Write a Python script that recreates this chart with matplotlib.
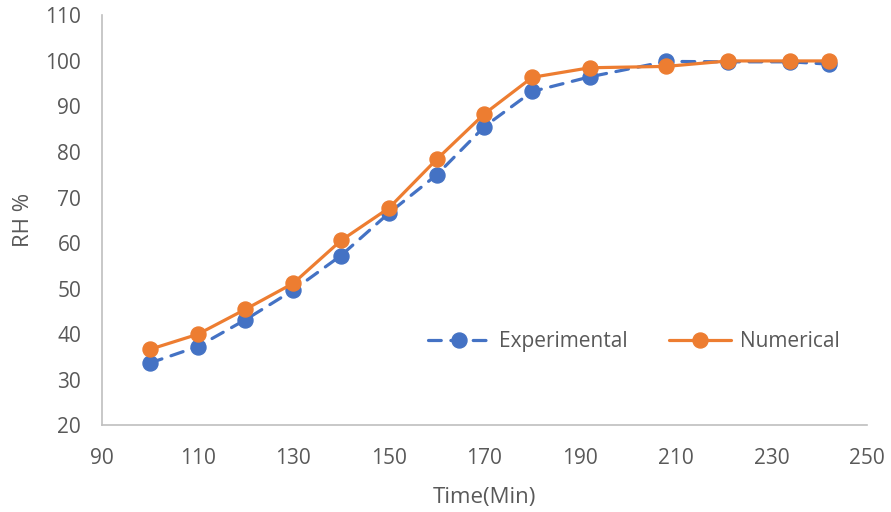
import matplotlib
matplotlib.use("Agg")
import matplotlib.pyplot as plt

# Relative humidity over time: measured vs simulated
time_min = [100, 110, 120, 130, 140, 150, 160, 170, 180, 192, 208, 221, 234, 242]
rh_experimental = [33.7, 37.3, 43.2, 49.7, 57.3, 66.6, 75.0, 85.6, 93.3, 96.5, 99.9, 99.8, 99.8, 99.3]
rh_numerical = [36.7, 40.0, 45.5, 51.2, 60.6, 67.7, 78.4, 88.4, 96.4, 98.5, 98.8, 100.0, 100.0, 100.0]

x_ticks = [90, 110, 130, 150, 170, 190, 210, 230, 250]
y_ticks = [20, 30, 40, 50, 60, 70, 80, 90, 100, 110]

BLUE = "#4472C4"
ORANGE = "#ED7D31"
TEXT = "#595959"
AXIS = "#BFBFBF"

plt.rcParams["font.family"] = ["Open Sans", "DejaVu Sans"]

fig = plt.figure(figsize=(8.91, 5.12), dpi=100)
ax = fig.add_axes([0.1145, 0.169, 0.8585, 0.801])

ax.plot(time_min, rh_experimental, color=BLUE, lw=2.3, dashes=[4, 3],
        dash_capstyle="round", marker="o", ms=10.8, label="Experimental", zorder=3)
ax.plot(time_min, rh_numerical, color=ORANGE, lw=2.3, solid_capstyle="round",
        marker="o", ms=10.8, label="Numerical", zorder=4)

ax.set_xlim(90, 250)
ax.set_ylim(20, 110)
ax.set_xticks(x_ticks)
ax.set_yticks(y_ticks)
ax.tick_params(length=0, labelsize=15, colors=TEXT)
ax.tick_params(axis="x", pad=16)
ax.tick_params(axis="y", pad=15)

for side in ("top", "right"):
    ax.spines[side].set_visible(False)
for side in ("left", "bottom"):
    ax.spines[side].set_color(AXIS)
    ax.spines[side].set_linewidth(1.2)

ax.set_xlabel("Time(Min)", fontsize=16, color=TEXT, labelpad=13)
ax.set_ylabel("RH %", fontsize=16, color=TEXT, labelpad=8)

leg = ax.legend(ncol=2, loc="center", bbox_to_anchor=(0.695, 0.205), frameon=False,
                fontsize=15, handlelength=3.0, columnspacing=2.0, handletextpad=0.4)
for t in leg.get_texts():
    t.set_color(TEXT)

fig.savefig("out.png", dpi=100, facecolor="white")
